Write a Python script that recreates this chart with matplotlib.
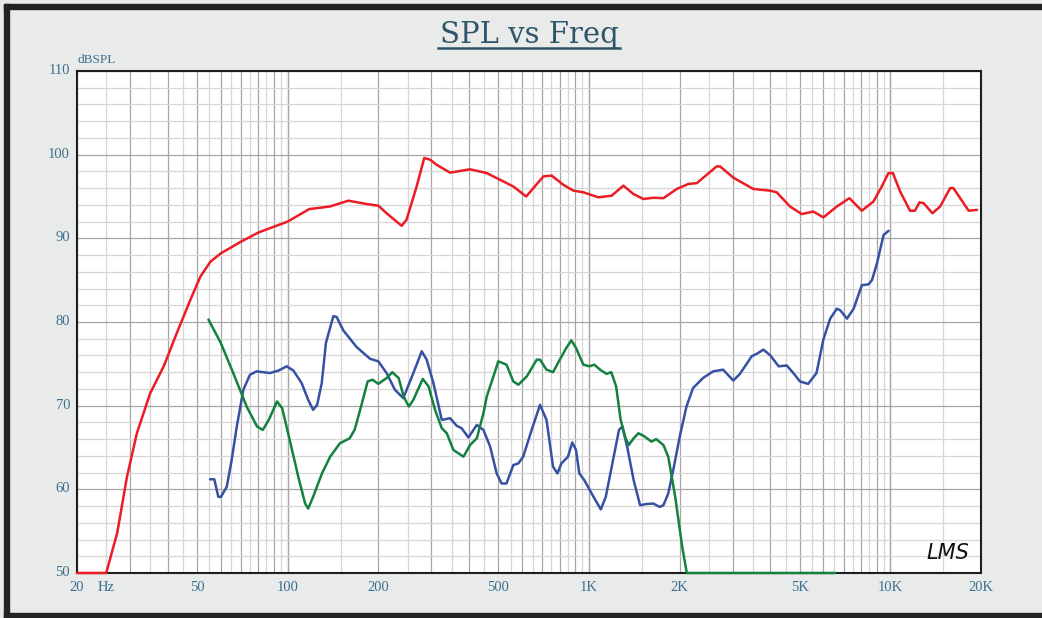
import numpy as np
import matplotlib
matplotlib.use("Agg")
import matplotlib.pyplot as plt
from matplotlib.lines import Line2D
from matplotlib.patches import Rectangle
from matplotlib.transforms import ScaledTranslation

# red trace
red_freq = [20, 25, 27.2, 29.3, 31.6, 35, 38.8, 42.9, 47.5, 51.3, 55.4, 60, 70, 80, 100, 118, 138, 159, 183, 200,
            213, 239, 248, 268, 284, 297, 312, 346, 403, 458, 561, 619, 706, 752, 822, 888, 958, 1075, 1190, 1301,
            1404, 1516, 1636, 1766, 1956, 2139, 2280, 2654, 2723, 3014, 3513, 3991, 4200, 4648, 5085, 5556, 5998,
            6642, 7316, 8041, 8793, 9369, 9857, 10200, 10780, 11630, 12070, 12500, 12900, 13800, 14630, 15800,
            16200, 18200, 19400]
red_spl = [50, 50, 54.8, 61.5, 66.7, 71.5, 74.7, 78.7, 82.6, 85.4, 87.2, 88.2, 89.6, 90.7, 92.0, 93.5, 93.8, 94.5,
           94.1, 93.9, 93.0, 91.5, 92.2, 96.2, 99.6, 99.4, 98.8, 97.85, 98.25, 97.8, 96.2, 95.0, 97.4, 97.5, 96.4,
           95.7, 95.5, 94.9, 95.1, 96.3, 95.3, 94.7, 94.85, 94.8, 95.9, 96.5, 96.6, 98.6, 98.6, 97.25, 95.9, 95.7,
           95.5, 93.8, 92.9, 93.2, 92.5, 93.8, 94.8, 93.3, 94.4, 96.2, 97.8, 97.8, 95.6, 93.3, 93.3, 94.3, 94.2,
           93.0, 93.8, 96.0, 96.0, 93.3, 93.4]

# blue trace
blue_freq = [55.3, 57.1, 58.9, 60.1, 62.8, 65.2, 67.8, 71.3, 75, 78.9, 87.4, 93.3, 99.3, 104.5, 111.3, 117, 121.5,
             125.3, 129.8, 134, 141.8, 145.5, 153, 169.5, 187.8, 200, 213, 227, 242, 261.4, 278.6, 289.3, 304.7,
             324.8, 346, 364, 378, 398, 424.5, 446.5, 470, 494, 513, 532.5, 561, 583, 605, 645.5, 688, 723, 760,
             786, 810, 852, 880, 906, 929, 965, 1028, 1095, 1137, 1196, 1258, 1290, 1339, 1407, 1478, 1553, 1636,
             1714, 1766, 1833, 1904, 2001, 2107, 2215, 2390, 2582, 2787, 3013, 3170, 3467, 3646, 3790, 4000, 4261,
             4534, 4768, 5013, 5338, 5690, 5996, 6317, 6650, 6823, 7182, 7559, 8045, 8470, 8693, 9031, 9498, 9870]
blue_spl = [61.2, 61.2, 59.1, 59.1, 60.3, 63.5, 67.5, 71.9, 73.7, 74.1, 73.9, 74.2, 74.7, 74.2, 72.7, 70.7, 69.5,
            70.1, 72.7, 77.5, 80.7, 80.6, 79.0, 77.0, 75.6, 75.3, 73.9, 71.9, 70.9, 73.9, 76.5, 75.5, 72.7, 68.3,
            68.5, 67.6, 67.3, 66.2, 67.7, 67.1, 65.1, 61.9, 60.7, 60.7, 62.9, 63.1, 63.9, 67.1, 70.1, 68.3, 62.7,
            61.9, 63.1, 63.9, 65.6, 64.7, 61.9, 61.1, 59.3, 57.6, 59.1, 63.1, 67.1, 67.5, 65.1, 61.1, 58.1, 58.25,
            58.3, 57.9, 58.1, 59.5, 62.3, 66.3, 69.9, 72.1, 73.3, 74.1, 74.3, 73.0, 73.8, 75.9, 76.3, 76.7, 76.0,
            74.7, 74.8, 73.9, 72.9, 72.6, 73.9, 77.9, 80.4, 81.6, 81.4, 80.4, 81.6, 84.4, 84.5, 85.0, 87.0, 90.4,
            90.9]

# green trace
green_freq = [54.6, 60, 66, 73.1, 79.2, 82.7, 86.6, 92.2, 95.9, 101.6, 108.5, 114.3, 117, 121.5, 130, 138.4, 149.1,
              160.7, 166.8, 175.3, 184.3, 191.4, 200, 213, 222.5, 233.6, 242.6, 252.5, 261.4, 280.8, 293.6, 308.5,
              324.8, 337.5, 355, 369, 383.5, 403.2, 424.5, 446.5, 458, 482, 500, 532.5, 561, 583, 622, 671, 688,
              723, 760, 800, 841, 874, 906, 958, 1004, 1042, 1089, 1143, 1186, 1231, 1274, 1323, 1356, 1407, 1459,
              1517, 1612, 1672, 1766, 1833, 1933, 2040, 2112, 6560]
green_spl = [80.3, 77.5, 73.9, 69.9, 67.5, 67.1, 68.3, 70.5, 69.7, 65.9, 61.5, 58.3, 57.7, 59.1, 61.9, 63.9, 65.5,
             66.1, 67.1, 69.9, 72.9, 73.1, 72.6, 73.3, 74.0, 73.3, 71.1, 69.9, 70.7, 73.2, 72.3, 69.5, 67.3, 66.7,
             64.7, 64.3, 63.9, 65.3, 66.1, 69.1, 71.1, 73.5, 75.3, 74.9, 72.9, 72.5, 73.5, 75.5, 75.5, 74.3, 74.0,
             75.5, 76.9, 77.8, 76.9, 74.9, 74.7, 74.9, 74.3, 73.8, 74.0, 72.3, 68.3, 66.1, 65.3, 66.1, 66.7, 66.4,
             65.7, 66.0, 65.3, 63.9, 59.1, 53.1, 50.0, 50.0]

x_ticks = [20, 25, 50, 100, 200, 500, 1000, 2000, 5000, 10000, 20000]
x_tick_labels = ["20", "Hz", "50", "100", "200", "500", "1K", "2K", "5K", "10K", "20K"]
y_ticks = [50, 60, 70, 80, 90, 100, 110]

bg_color = "#e9ebea"
label_color = "#3b6f8e"
title_color = "#2f5569"
grid_dark = "#a6a6a6"
grid_light = "#d6d6d6"
line_style = dict(
    red={"color": "#ec1c24", "linewidth": 1.8},
    blue={"color": "#3651a3", "linewidth": 1.8},
    green={"color": "#13813f", "linewidth": 1.8},
)


def draw_grid(ax):
    for dec in [10, 100, 1000, 10000]:
        for m in np.arange(1, 10.5, 0.5):
            f = dec * m
            if f < 20 or f > 20000:
                continue
            c = grid_dark if m == int(m) else grid_light
            ax.axvline(f, color=c, linewidth=0.9, zorder=1)
    for db in range(50, 111, 2):
        c = grid_dark if db % 10 == 0 else grid_light
        ax.axhline(db, color=c, linewidth=0.9, zorder=1)


def main():
    fig = plt.figure(figsize=(10.42, 6.18), dpi=100, facecolor=bg_color)
    W, H = 1042, 618
    ax = fig.add_axes([77 / W, 1 - 573 / H, (981 - 77) / W, (573 - 71) / H])
    ax.set_facecolor("white")
    ax.set_xscale("log")
    ax.set_xlim(20, 20000)
    ax.set_ylim(50, 110)

    draw_grid(ax)

    for name, fr, spl in [("red", red_freq, red_spl), ("blue", blue_freq, blue_spl), ("green", green_freq, green_spl)]:
        ax.plot(fr, spl, zorder=4, clip_on=False, solid_joinstyle="round", solid_capstyle="round",
                **line_style[name])

    ax.set_xticks(x_ticks)
    ax.set_xticklabels(x_tick_labels)
    ax.xaxis.set_minor_locator(matplotlib.ticker.NullLocator())
    ax.set_yticks(y_ticks)
    ax.set_yticklabels([str(v) for v in y_ticks])
    ax.tick_params(axis="both", length=0, labelsize=10.5, labelcolor=label_color)
    ax.tick_params(axis="x", pad=6)
    ax.tick_params(axis="y", pad=5)
    shift_up = ScaledTranslation(0, 2 / 100, fig.dpi_scale_trans)
    for lab in ax.get_xticklabels() + ax.get_yticklabels():
        lab.set_fontfamily("Liberation Serif")
    for lab in ax.get_yticklabels():
        lab.set_transform(lab.get_transform() + shift_up)
    for s in ax.spines.values():
        s.set_color("#1e1e1e")
        s.set_linewidth(1.5)
        s.set_zorder(3)

    fig.text(78 / W, 1 - 60 / H, "dBSPL", ha="left", va="center", fontsize=9.5,
             family="Liberation Serif", color=label_color)

    # title with underline
    fig.text(529 / W, 1 - 35 / H, "SPL vs Freq", ha="center", va="center", fontsize=21,
             family="DejaVu Serif", color=title_color)
    fig.add_artist(Line2D([438 / W, 620 / W], [1 - 48 / H, 1 - 48 / H], color=title_color, linewidth=1.8))

    # logo
    fig.text(948 / W, 1 - 553 / H, "LMS", ha="center", va="center", fontsize=15, style="italic",
             family="DejaVu Sans", color="#111111", zorder=5)

    # frame around picture
    fig.add_artist(Rectangle((4 / W, 0), 5 / W, 1 - 4 / H, transform=fig.transFigure, color="#232323"))
    fig.add_artist(Rectangle((4 / W, 1 - 9 / H), 1, 5 / H, transform=fig.transFigure, color="#232323"))
    fig.add_artist(Rectangle((4 / W, 0), 1, 5 / H, transform=fig.transFigure, color="#232323"))

    fig.savefig("out.png", dpi=100, facecolor=bg_color)


if __name__ == '__main__':
    main()
